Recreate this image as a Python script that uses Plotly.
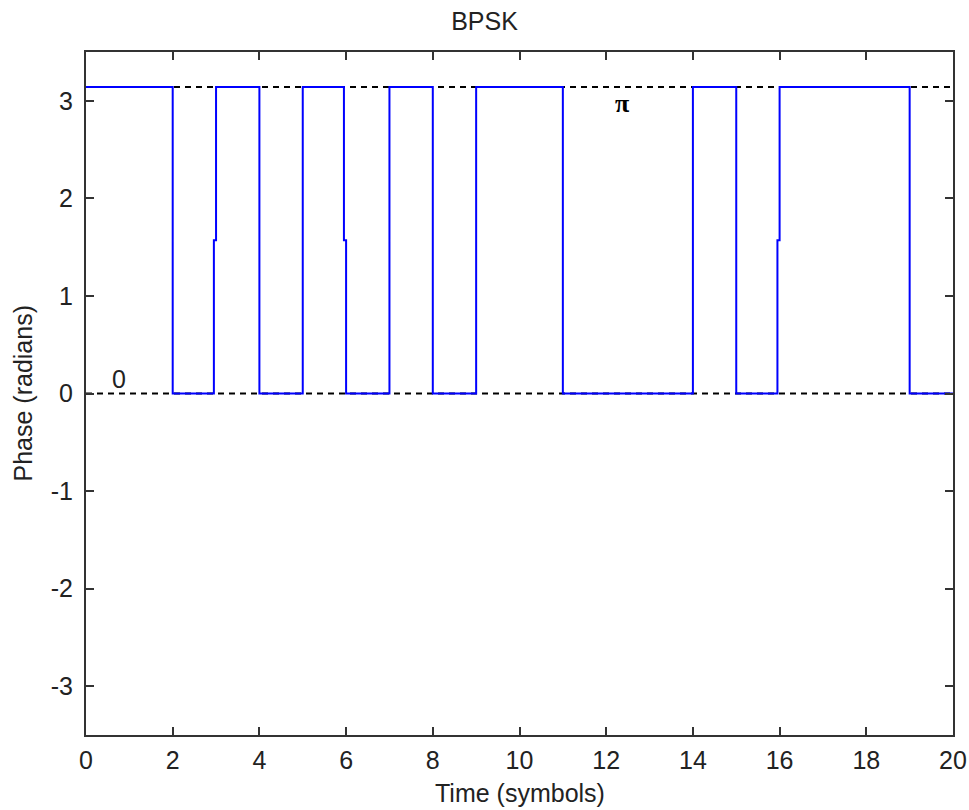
import numpy as np
import plotly.graph_objects as go

# Phase of each symbol, in units of pi (symbols 0..19)
symbol_phase_pi = [1, 1, 0, 1, 0, 1, 0, 1, 0, 1, 1, 0, 0, 0, 1, 0, 1, 1, 1, 0]
# Symbol boundaries where the phase passes through an intermediate pi/2 sample
notch_boundaries = [3, 6, 16]
notch_phase = np.pi / 2
notch_width = 0.05

x_ticks = [0, 2, 4, 6, 8, 10, 12, 14, 16, 18, 20]
y_ticks = [-3, -2, -1, 0, 1, 2, 3]
ref_levels = [0, np.pi]
ref_labels = ["0", "π"]
ref_label_x = [0.755, 12.36]
ref_label_y = [0.15, 2.975]

# build the step waveform
xs, ys = [], []
n = len(symbol_phase_pi)
for k in range(n):
    val = symbol_phase_pi[k] * np.pi
    if k == 0:
        xs.append(0); ys.append(val)
    else:
        prev = symbol_phase_pi[k - 1] * np.pi
        if k in notch_boundaries:
            xs += [k - notch_width, k - notch_width, k, k]
            ys += [prev, notch_phase, notch_phase, val]
        else:
            xs += [k, k]
            ys += [prev, val]
xs.append(n); ys.append(symbol_phase_pi[-1] * np.pi)

FONT = "Liberation Sans"
TXT = "#222222"
FS = 25

fig = go.Figure()
for lvl in ref_levels:
    fig.add_trace(go.Scatter(x=[0, 20], y=[lvl, lvl], mode="lines",
                             line=dict(color="black", width=2, dash="6px,5px"),
                             hoverinfo="skip", showlegend=False))
fig.add_trace(go.Scatter(x=xs, y=ys, mode="lines",
                         line=dict(color="#0000ff", width=2),
                         showlegend=False))
fig.add_annotation(x=ref_label_x[0], y=ref_label_y[0], text=ref_labels[0], showarrow=False,
                   font=dict(size=FS, family=FONT, color=TXT))
fig.add_annotation(x=ref_label_x[1], y=ref_label_y[1], text="<b>" + ref_labels[1] + "</b>", showarrow=False,
                   font=dict(size=26, family="Liberation Serif", color="black"))

# axis titles
fig.add_annotation(xref="paper", yref="paper", x=0.5, y=0, yshift=-58, text="Time (symbols)",
                   showarrow=False, xanchor="center", yanchor="middle",
                   font=dict(size=FS, family=FONT, color=TXT))
fig.add_annotation(xref="paper", yref="paper", x=0, y=0.5, xshift=-64, text="Phase (radians)",
                   textangle=-90, showarrow=False, xanchor="center", yanchor="middle",
                   font=dict(size=FS, family=FONT, color=TXT))

axis_common = dict(showline=True, linecolor="#333333", linewidth=2, mirror="ticks",
                   ticks="inside", ticklen=8, tickcolor="#333333", tickwidth=2,
                   showgrid=False, zeroline=False, ticklabeloverflow="allow",
                   automargin=False,
                   tickfont=dict(size=FS, family=FONT, color=TXT))
fig.update_xaxes(range=[0, 20], tickvals=x_ticks, ticktext=[str(v) for v in x_ticks],
                 ticklabelstandoff=2, **axis_common)
fig.update_yaxes(range=[-3.5, 3.5], tickvals=y_ticks, ticktext=[str(v) for v in y_ticks],
                 ticklabelstandoff=6, **axis_common)

W, H = 969, 810
fig.update_layout(
    width=W, height=H,
    margin=dict(l=86, r=16, t=52, b=75, autoexpand=False),
    plot_bgcolor="white", paper_bgcolor="white",
    title=dict(text="BPSK", x=0.5, xanchor="center", y=1 - 21.5 / H, yanchor="middle",
               font=dict(size=FS, family=FONT, color=TXT)),
)
fig.write_html("out.html", config={"displayModeBar": False},
               post_script="document.body.style.margin='0';document.body.style.overflow='hidden';")
